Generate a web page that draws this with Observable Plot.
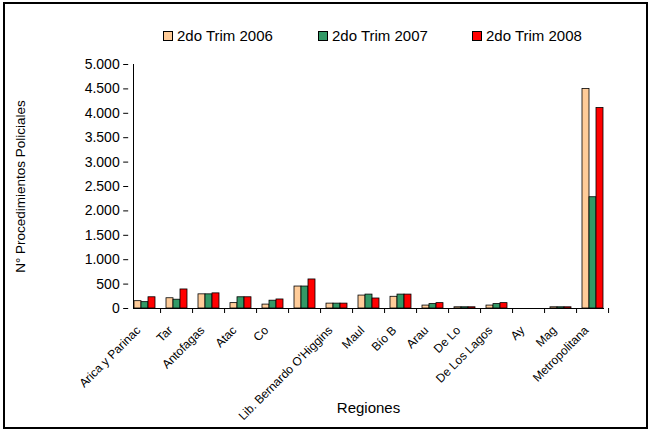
<!DOCTYPE html>
<html><head><meta charset="utf-8">
<script src="https://cdn.jsdelivr.net/npm/d3@7"></script>
<script src="https://cdn.jsdelivr.net/npm/@observablehq/plot@0.6"></script>
<style>
body{margin:0;background:#fff;font-family:"Liberation Sans",Arial,sans-serif;}
#frame{position:absolute;left:3px;top:2px;width:641px;height:423px;border:2px solid #000;}
#chart{position:absolute;left:0;top:0;}
#legend{position:absolute;top:27px;left:0;width:653px;height:18px;font-size:15px;color:#000;}
.item{position:absolute;top:0;display:flex;align-items:center;white-space:nowrap;}
.sw{width:8px;height:8px;border:1px solid #000;margin-right:4px;}
</style></head><body>
<div id="frame"></div><div id="chart"></div><div id="legend"></div>
<script>
const regiones = ["Arica y Parinacota","Tarapacá","Antofagasta","Atacama","Coquimbo","Valparaíso","Lib. Bernardo O'Higgins","Maule","Bío Bío","Araucanía","De Los Ríos","De Los Lagos","Aysén","Magallanes","Metropolitana"];
const etiquetas = ["Arica y Parinac","Tar","Antofagas","Atac","Co","","Lib. Bernardo O'Higgins","Maul","Bío B","Arau","De Lo","De Los Lagos","Ay","Mag","Metropolitana"];
const series = ["2do Trim 2006","2do Trim 2007","2do Trim 2008"];
const trim2006 = [150,210,290,110,80,450,100,265,240,60,25,60,0,25,4500];
const trim2007 = [130,180,290,230,160,450,100,285,285,90,25,90,0,25,2280];
const trim2008 = [230,390,310,230,185,595,100,205,285,110,25,110,0,25,4110];
const colores = ["#FFCC99","#339966","#FF0000"];
const yTicks = [0,500,1000,1500,2000,2500,3000,3500,4000,4500,5000];

const valores = [trim2006, trim2007, trim2008];
const data = [];
regiones.forEach((r, i) => series.forEach((s, j) => data.push({region: r, serie: s, valor: valores[j][i]})));
const etiqueta = new Map(regiones.map((r, i) => [r, etiquetas[i]]));
const fmt = d => d3.format(",")(d).replace(/,/g, ".");

const W = 653, H = 433, mL = 127, mR = 44;
const step = (W - mL - mR) / regiones.length;
const padOuter = 0.15;

const plot = Plot.plot({
  width: W, height: H,
  marginLeft: mL, marginRight: mR, marginTop: 64, marginBottom: 125,
  style: {fontFamily: "'Liberation Sans', Arial, sans-serif", background: "transparent", color: "#000"},
  fx: {domain: regiones, paddingInner: 0.3, paddingOuter: padOuter},
  x: {domain: series, padding: 0, axis: null},
  y: {domain: [0, 5000]},
  color: {domain: series, range: colores},
  marks: [
    Plot.frame({anchor: "left", facet: "super", stroke: "#000"}),
    Plot.frame({anchor: "bottom", facet: "super", stroke: "#000"}),
    Plot.barY(data, {fx: "region", x: "serie", y: "valor", fill: "serie", stroke: "#000", strokeWidth: 0.8}),
    Plot.axisY({ticks: yTicks, tickFormat: fmt, tickSize: 5, fontSize: 14, dx: -padOuter * step,
      label: "N° Procedimientos Policiales", labelAnchor: "center", labelArrow: "none", labelOffset: 118}),
    Plot.axisFx({anchor: "bottom", tickSize: 5, tickFormat: () => "", dx: step / 2, label: null}),
    Plot.axisFx({anchor: "bottom", tickSize: 0, tickFormat: d => etiqueta.get(d), tickRotate: -45, fontSize: 12, dx: -6, dy: 8,
      label: "Regiones", labelAnchor: "center", labelArrow: "none", labelOffset: 104})
  ]
});
plot.querySelectorAll("[aria-label='y-axis label'] text").forEach(t => t.setAttribute("font-size", 13.5));
plot.querySelectorAll("[aria-label='fx-axis label'] text").forEach(t => t.setAttribute("font-size", 15));
document.getElementById("chart").appendChild(plot);

const legend = document.getElementById("legend");
const lx = [163, 318, 472];
series.forEach((s, i) => {
  const it = document.createElement("div");
  it.className = "item";
  it.style.left = lx[i] + "px";
  it.innerHTML = `<span class="sw" style="background:${colores[i]}"></span><span>${s}</span>`;
  legend.appendChild(it);
});
</script>
</body></html>
